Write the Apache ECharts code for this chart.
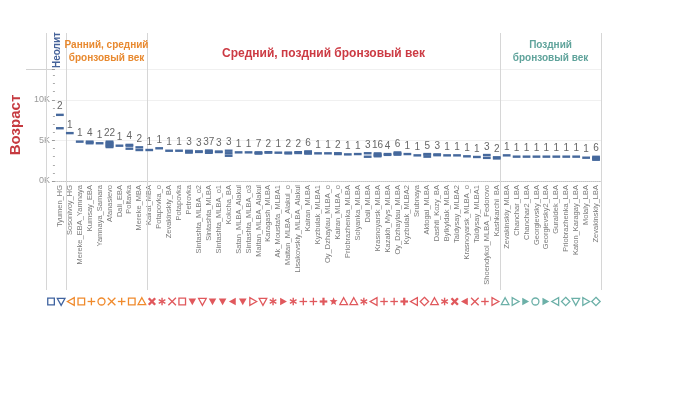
<!DOCTYPE html>
<html>
<head>
<meta charset="utf-8">
<script src="https://cdn.jsdelivr.net/npm/echarts@6/dist/echarts.min.js"></script>
<style>
html,body{margin:0;padding:0;background:#fff;}
#chart{width:700px;height:393px;}
</style>
</head>
<body>
<div id="chart"></div>
<script>
// ---------- DATA ----------
const categories = [
  'Tyumen_HG','Sosonivoy_HG',
  'Mereke_EBA_Yamnaya','Kumsay_EBA','Yamnaya_Samara','Afanasievo','Dali_EBA','Poltavka','Mereke_MBA','Kairat_MBA',
  'Potapovka_o','Zevakinskiy_BA','Potapovka','Petrovka','Sintashta_MLBA_o2','Sintashta_MLBA','Sintashta_MLBA_o1','Kokcha_BA',
  'Satan_MLBA_Alakul','Sintashta_MLBA_o3','Maitan_MLBA_Alakul','Karagash_MLBA','Ak_Moustafa_MLBA1','Maitan_MLBA_Alakul_o',
  'Lisakovskiy_MLBA_Alakul','Kairan_MLBA','Kyzbulak_MLBA1','Oy_Dzhaylau_MLBA_o','Kairan_MLBA_o','Priobrazhenka_MLBA',
  'Solyanka_MLBA','Dali_MLBA','Krasnoyarsk_MLBA','Kazakh_Mys_MLBA','Oy_Dzhaylau_MLBA','Kyzbulak_MLBA2','Srubnaya',
  'Aktogai_MLBA','Dashti_Kozy_BA','Bylkyldak_MLBA','Taldysay_MLBA2','Krasnoyarsk_MLBA_o','Taldysay_MLBA1',
  'Shoendykol_MLBA_Fedorovo','Kashkarchi_BA',
  'Zevakinskiy_MLBA','Chanchar_LBA','Chanchar2_LBA','Georgievsky_LBA','Georgievsky2_LBA','Guraldek_LBA',
  'Priobrazhenka_LBA','Katon_Karagay_LBA','Molaly_LBA','Zevakinskiy_LBA'
];

const periodNames = ['Неолит', 'Ранний, средний\nбронзовый век', 'Средний, поздний бронзовый век', 'Поздний\nбронзовый век'];
const periodSizes = [2, 8, 35, 10];
const periodTextColors = ['#46639a', '#e8892f', '#cc3a43', '#5fa39b'];
const periodShapeColors = ['#3f63a0', '#f08a2c', '#e0585c', '#6cb0a8'];

const sampleCounts = [
  2, 1,
  1, 4, 1, 22, 1, 4, 2, 1,
  1, 1, 1, 3, 3, 37, 3, 3, 1, 1, 7, 2, 1, 2, 2, 6, 1, 1, 2, 1, 1, 3, 16, 4, 6, 1, 1, 5, 3, 1, 1, 1, 1, 3, 2,
  1, 1, 1, 1, 1, 1, 1, 1, 1, 6
];

// visible dash positions (years) per group
const sampleAges = [
  [8150, 6500], [5900],
  [4850], [4850, 4750, 4650], [4650], [4850, 4750, 4650, 4550, 4450, 4350, 4250, 4180], [4350], [4450, 4350, 3980], [4150, 3820], [3820],
  [4030], [3730], [3730], [3720, 3620, 3500], [3650, 3580], [3750, 3680, 3600, 3530, 3480], [3620, 3570], [3730, 3420, 3110],
  [3530], [3530], [3530, 3450, 3380], [3550, 3500], [3490], [3500, 3400],
  [3550, 3450], [3650, 3550, 3450, 3380], [3410], [3410], [3420, 3320], [3280],
  [3320], [3420, 2990], [3400, 3300, 3200, 3100, 3050], [3320, 3220], [3520, 3420, 3320, 3250], [3320], [3160],
  [3320, 3250, 3000], [3280, 3180], [3160], [3160], [3040], [2960],
  [3200, 2850], [2920, 2780],
  [3160], [3000], [3000], [3000], [3000], [3000], [3000], [3000], [2870], [2980, 2850, 2720, 2620]
];

const shapeCodes = [
  'sq','tdo',
  'tlo','sq','plus','circ','x','plus','sq','tuo',
  'xb','ast','x','sq','tdf','tdo','tdf','tdf','tlf','tdf','tro','tdo','ast','trf','ast','plus','plus','plusb',
  'star','tuo','tuo','ast','tlo','plus','plus','plusb','tlo','dia','tuo','ast','xb','tlf','x','plus','tro',
  'tuo','tro','trf','circ','trf','tlo','dia','tdo','tro','dia'
];

const yTicks = [0, 5000, 10000];

// ---------- DERIVED ----------
const periodOf = [];
periodSizes.forEach((n, p) => { for (let k = 0; k < n; k++) periodOf.push(p); });
const boundaries = [0];
periodSizes.forEach(n => boundaries.push(boundaries[boundaries.length - 1] + n));
const periodMids = periodSizes.map((n, p) => boundaries[p] + n / 2);

const FONT = '"Liberation Sans", Arial, sans-serif';
const markColor = '#46699d';

function shapeElement(code, cx, cy, color) {
  const r = 3.8;
  const so = { stroke: color, lineWidth: 1.3, fill: 'none' };
  const sf = { fill: color };
  const line = (x1, y1, x2, y2, lw) => ({ type: 'line', shape: { x1, y1, x2, y2 }, style: { stroke: color, lineWidth: lw } });
  const tri = {
    u: [[cx, cy - r], [cx + r, cy + r * 0.8], [cx - r, cy + r * 0.8]],
    d: [[cx - r, cy - r * 0.8], [cx + r, cy - r * 0.8], [cx, cy + r]],
    l: [[cx - r, cy], [cx + r * 0.8, cy - r], [cx + r * 0.8, cy + r]],
    r: [[cx + r, cy], [cx - r * 0.8, cy - r], [cx - r * 0.8, cy + r]]
  };
  switch (code) {
    case 'sq': return { type: 'rect', shape: { x: cx - r + 0.5, y: cy - r + 0.5, width: 2 * r - 1, height: 2 * r - 1 }, style: so };
    case 'circ': return { type: 'circle', shape: { cx, cy, r: r - 0.3 }, style: so };
    case 'dia': return { type: 'polygon', shape: { points: [[cx, cy - r - 0.4], [cx + r + 0.4, cy], [cx, cy + r + 0.4], [cx - r - 0.4, cy]] }, style: so };
    case 'tuo': return { type: 'polygon', shape: { points: tri.u }, style: so };
    case 'tdo': return { type: 'polygon', shape: { points: tri.d }, style: so };
    case 'tlo': return { type: 'polygon', shape: { points: tri.l }, style: so };
    case 'tro': return { type: 'polygon', shape: { points: tri.r }, style: so };
    case 'tdf': return { type: 'polygon', shape: { points: tri.d }, style: sf };
    case 'tlf': return { type: 'polygon', shape: { points: tri.l }, style: sf };
    case 'trf': return { type: 'polygon', shape: { points: tri.r }, style: sf };
    case 'plus': return { type: 'group', children: [line(cx - r, cy, cx + r, cy, 1.3), line(cx, cy - r, cx, cy + r, 1.3)] };
    case 'plusb': return { type: 'group', children: [line(cx - r, cy, cx + r, cy, 2.2), line(cx, cy - r, cx, cy + r, 2.2)] };
    case 'x': return { type: 'group', children: [line(cx - r, cy - r, cx + r, cy + r, 1.3), line(cx - r, cy + r, cx + r, cy - r, 1.3)] };
    case 'xb': return { type: 'group', children: [line(cx - r * 0.85, cy - r * 0.85, cx + r * 0.85, cy + r * 0.85, 2.4), line(cx - r * 0.85, cy + r * 0.85, cx + r * 0.85, cy - r * 0.85, 2.4)] };
    case 'ast': {
      const a = r * 0.87, b = r * 0.5;
      return { type: 'group', children: [line(cx, cy - r, cx, cy + r, 1.4), line(cx - a, cy - b, cx + a, cy + b, 1.4), line(cx - a, cy + b, cx + a, cy - b, 1.4)] };
    }
    case 'star': {
      const pts = [];
      for (let k = 0; k < 10; k++) {
        const rr = k % 2 === 0 ? r + 0.4 : (r + 0.4) * 0.45;
        const ang = -Math.PI / 2 + k * Math.PI / 5;
        pts.push([cx + rr * Math.cos(ang), cy + rr * Math.sin(ang)]);
      }
      return { type: 'polygon', shape: { points: pts }, style: sf };
    }
  }
  return null;
}

const chart = echarts.init(document.getElementById('chart'), null, { renderer: 'canvas' });

const headerFontSizes = [10, 10, 12, 10];
const headerYs = [0.926, 0.926, 0.918, 0.926];

const option = {
  animation: false,
  backgroundColor: '#ffffff',
  textStyle: { fontFamily: FONT },
  grid: [
    { left: 46, width: 555, top: 69, height: 112 },   // main plot
    { left: 46, width: 555, top: 33, height: 257 },   // overlay (dividers, headers)
    { left: 46, width: 555, top: 293, height: 17 }    // shape row
  ],
  xAxis: [
    {
      gridIndex: 0, type: 'category', data: categories, boundaryGap: true,
      axisLine: { show: true, lineStyle: { color: '#c4c4c4', type: 'dotted', width: 1 } },
      axisTick: { show: false },
      axisLabel: { interval: 0, rotate: 90, fontSize: 7.5, color: '#7a7a7a', margin: 4, fontFamily: FONT },
      splitLine: { show: false }
    },
    { gridIndex: 1, type: 'value', min: 0, max: categories.length, show: false },
    { gridIndex: 2, type: 'category', data: categories, show: false }
  ],
  yAxis: [
    {
      gridIndex: 0, type: 'value', min: 0, max: 13800, interval: 5000,
      name: 'Возраст', nameLocation: 'middle', nameRotate: 90, nameGap: 31,
      nameTextStyle: { color: '#c63a40', fontSize: 15, fontWeight: 'bold', fontFamily: FONT },
      axisLine: { show: false },
      axisTick: { show: true, length: 3, lineStyle: { color: '#999' } },
      minorTick: { show: true, splitNumber: 5, length: 2, lineStyle: { color: '#aaa' } },
      axisLabel: {
        fontSize: 9, color: '#999', margin: 5, fontFamily: FONT,
        formatter: v => (yTicks.indexOf(v) >= 0 ? (v / 1000) + 'K' : '')
      },
      splitLine: { show: true, lineStyle: { color: '#f0f0f0', width: 1 } }
    },
    { gridIndex: 1, type: 'value', min: 0, max: 1, show: false },
    { gridIndex: 2, type: 'value', min: 0, max: 1, show: false }
  ],
  graphic: [
    { type: 'line', shape: { x1: 26, y1: 69.5, x2: 601, y2: 69.5 }, style: { stroke: '#d2d2d2', lineWidth: 1 }, silent: true }
  ],
  series: [
    // dividers between periods
    {
      type: 'custom', xAxisIndex: 1, yAxisIndex: 1, silent: true, z: 1,
      data: boundaries.map(b => [b, 0]),
      renderItem: function (params, api) {
        const b = api.value(0);
        const p0 = api.coord([b, 0]);
        const p1 = api.coord([b, 1]);
        const x = Math.round(p0[0]) + 0.5;
        return { type: 'line', shape: { x1: x, y1: p0[1], x2: x, y2: p1[1] }, style: { stroke: '#d6d6d6', lineWidth: 1 } };
      }
    },
    // period headers
    {
      type: 'custom', xAxisIndex: 1, yAxisIndex: 1, silent: true, z: 3,
      data: periodMids.map((m, i) => [m, headerYs[i]]),
      renderItem: function (params, api) {
        const i = params.dataIndex;
        const p = api.coord([api.value(0), api.value(1)]);
        const el = {
          type: 'text', x: p[0] + (i === 0 ? 1 : 0), y: p[1],
          style: {
            text: periodNames[i], textAlign: 'center', textVerticalAlign: 'middle',
            fill: periodTextColors[i],
            font: 'bold ' + headerFontSizes[i] + 'px ' + FONT,
            lineHeight: 13
          }
        };
        if (i === 0) { el.rotation = Math.PI / 2; el.y = p[1] - 2; }
        return el;
      }
    },
    // sample marks + counts
    {
      type: 'custom', xAxisIndex: 0, yAxisIndex: 0, silent: true, z: 5,
      data: categories.map((c, i) => [i, Math.max.apply(null, sampleAges[i])]),
      renderItem: function (params, api) {
        const i = params.dataIndex;
        const bw = api.size([1, 0])[0];
        const w = bw * 0.78;
        const children = [];
        let top = Infinity, cx = 0;
        sampleAges[i].forEach(a => {
          const p = api.coord([i, a]);
          cx = p[0];
          children.push({ type: 'rect', shape: { x: p[0] - w / 2, y: p[1] - 1.2, width: w, height: 2.4 }, style: { fill: markColor } });
          top = Math.min(top, p[1] - 1.2);
        });
        children.push({
          type: 'text', x: cx, y: top - 2,
          style: { text: String(sampleCounts[i]), textAlign: 'center', textVerticalAlign: 'bottom', fill: '#666', font: '10px ' + FONT }
        });
        return { type: 'group', children };
      }
    },
    // shape legend row
    {
      type: 'custom', xAxisIndex: 2, yAxisIndex: 2, silent: true, z: 5,
      data: categories.map((c, i) => [i, 0.5]),
      renderItem: function (params, api) {
        const i = params.dataIndex;
        const p = api.coord([i, 0.5]);
        return shapeElement(shapeCodes[i], p[0], p[1], periodShapeColors[periodOf[i]]);
      }
    }
  ]
};

chart.setOption(option);
</script>
</body>
</html>
